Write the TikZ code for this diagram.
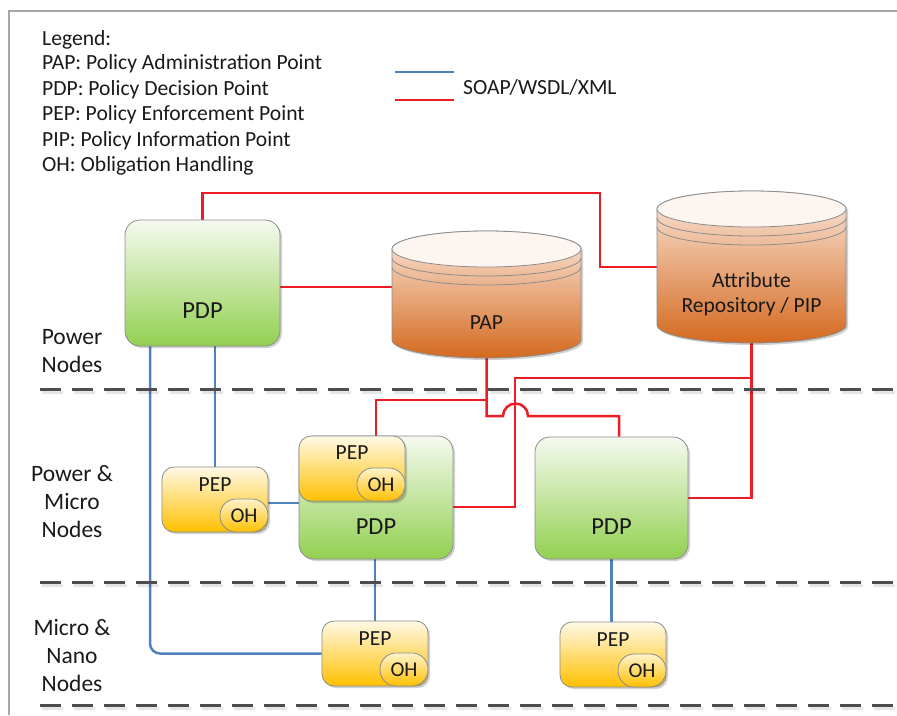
\documentclass[tikz,border=0pt]{standalone}
\usepackage{fontspec}
\setmainfont{Carlito}
\usetikzlibrary{shadows,backgrounds,calc}

\definecolor{linkred}{HTML}{EE1C25}
\definecolor{linkblue}{HTML}{4F81BD}
\definecolor{edgegray}{HTML}{8C8C8C}
\definecolor{framegray}{HTML}{A6A6A6}
\definecolor{greenTop}{HTML}{F5FAF0}
\definecolor{greenBot}{HTML}{92D050}
\definecolor{pepTop}{HTML}{FFF9E6}
\definecolor{pepBot}{HTML}{FFC000}
\definecolor{ohTop}{HTML}{FFF3CC}
\definecolor{cylTop}{HTML}{FBE8DC}
\definecolor{cylBot}{HTML}{D4691F}
\definecolor{cylFace}{HTML}{FDF5EF}
\definecolor{tiergray}{HTML}{4D4D4D}
\definecolor{txt}{HTML}{1A1A1A}

\newcommand\diagfont{\fontsize{21.6}{25}\selectfont}
\newcommand\pepfont{\fontsize{21.5}{25}\selectfont}
\newcommand\ohfont{\fontsize{21}{25}\selectfont}
\newcommand\pdpfont{\fontsize{24.5}{28}\selectfont}
\newcommand\tierfont{\fontsize{23.5}{28}\selectfont}

% storage cylinder: #1 left x, #2 right x, #3 top-face centre y, #4 bottom-face centre y
\newcommand\drawstore[4]{%
  \pgfmathsetmacro\cylrx{(#2-#1)/2}%
  \path[draw=edgegray, line width=0.8pt, top color=cylTop, bottom color=cylBot, softshadow]
    (#1,#3) -- (#1,#4) arc[start angle=180, end angle=360, x radius=\cylrx pt, y radius=18pt]
    -- (#2,#3) arc[start angle=0, end angle=180, x radius=\cylrx pt, y radius=18pt] -- cycle;
  \path[draw=edgegray, line width=0.8pt, fill=cylFace]
    ({(#1+#2)/2},#3) ellipse [x radius=\cylrx pt, y radius=18pt];
  \draw[edgegray, line width=0.8pt] (#1,#3+9) arc[start angle=180, end angle=360, x radius=\cylrx pt, y radius=18pt];
  \draw[edgegray, line width=0.8pt] (#1,#3+18) arc[start angle=180, end angle=360, x radius=\cylrx pt, y radius=18pt];
}

\begin{document}
\begin{tikzpicture}[x=1pt,y=-1pt,
  every node/.style={text=txt},
  softshadow/.style={drop shadow={shadow xshift=2pt,shadow yshift=-2pt,opacity=0.18,fill=black}},
  pdpbox/.style={draw=edgegray, line width=0.8pt, rounded corners=15pt,
    top color=greenTop, bottom color=greenBot, softshadow, inner sep=0pt},
  pepbox/.style={draw=edgegray, line width=0.8pt, rounded corners=12pt,
    top color=pepTop, bottom color=pepBot, minimum width=106pt, minimum height=65pt,
    inner sep=0pt, softshadow},
  ohbox/.style={draw=edgegray, line width=0.8pt, rounded corners=16pt,
    top color=ohTop, bottom color=pepBot, minimum width=48pt, minimum height=33pt,
    inner sep=0pt, font=\ohfont, anchor=south east},
  boxtext/.style={font=\diagfont, inner sep=0pt},
  pdptext/.style={font=\pdpfont, inner sep=0pt},
  peptext/.style={font=\pepfont, inner sep=0pt},
  redlink/.style={draw=linkred, line width=2.5pt},
  bluelink/.style={draw=linkblue, line width=2.5pt},
  tierline/.style={draw=tiergray, line width=3pt, dash pattern=on 21pt off 11pt},
  tiershade/.style={draw=black, opacity=0.1, line width=3pt, dash pattern=on 21pt off 11pt},
]
\useasboundingbox (0,0) rectangle (897,715);

% outer frame (top and left edges)
\draw[framegray, line width=1.5pt] (9,715) -- (9,11) -- (897,11);

% legend
\node[anchor=base west, font=\diagfont, inner sep=0pt] (leg0) at (42,45) {Legend:};
\node[anchor=base west, font=\diagfont, inner sep=0pt] (leg1) at (42,69.5) {PAP: Policy Administration Point};
\node[anchor=base west, font=\diagfont, inner sep=0pt] (leg2) at (42,95) {PDP: Policy Decision Point};
\node[anchor=base west, font=\diagfont, inner sep=0pt] (leg3) at (42,120.5) {PEP: Policy Enforcement Point};
\node[anchor=base west, font=\diagfont, inner sep=0pt] (leg4) at (42,146) {PIP: Policy Information Point};
\node[anchor=base west, font=\diagfont, inner sep=0pt] (leg5) at (42,171.5) {OH: Obligation Handling};

\coordinate (keyB1) at (395,72);
\coordinate (keyB2) at (454,72);
\coordinate (keyR1) at (395,100);
\coordinate (keyR2) at (454,100);
\draw[bluelink] (keyB1) -- (keyB2);
\draw[redlink] (keyR1) -- (keyR2);
\node[anchor=base west, font=\diagfont, inner sep=0pt] (keytxt) at (463,94) {SOAP/WSDL/XML};

% tier separators
\foreach \ty in {389,582,705}{
  \draw[tiershade] (42,\ty+3) -- (899,\ty+3);
  \draw[tierline] (40,\ty) -- (897,\ty);
}

% tier names
\node[align=center, font=\tierfont] (tier1) at (72,351) {Power\\Nodes};
\node[align=center, font=\tierfont] (tier2) at (72,502) {Power \&\\Micro\\Nodes};
\node[align=center, font=\tierfont] (tier3) at (72,655) {Micro \&\\Nano\\Nodes};

% repositories
\drawstore{392}{581}{249}{340}
\node[minimum width=189pt, minimum height=127pt, inner sep=0pt,
  label={[name=papT, boxtext, yshift=-28.5pt]center:PAP}] (pap) at (486.5,294.5) {};
\drawstore{657}{846}{209}{325}
\node[minimum width=189pt, minimum height=152pt, inner sep=0pt,
  label={[name=attrT, boxtext, align=center, yshift=-27.5pt]center:Attribute\\Repository / PIP}] (attr) at (751.5,267) {};

% decision points
\node[pdpbox, minimum width=155pt, minimum height=126pt,
  label={[name=pdpAT, pdptext, yshift=-28pt]center:PDP}] (pdpA) at (202.5,283) {};
\node[pdpbox, minimum width=154pt, minimum height=123pt,
  label={[name=pdpBT, pdptext, yshift=-29.5pt]center:PDP}] (pdpB) at (376,497.5) {};
\node[pdpbox, minimum width=153pt, minimum height=122pt,
  label={[name=pdpCT, pdptext, yshift=-29pt]center:PDP}] (pdpC) at (611.5,498) {};

% enforcement points with obligation handling
\node[pepbox, label={[name=pepMT, peptext, yshift=15.5pt]center:PEP}] (pepM) at (352,468.5) {};
\node[ohbox] (ohM) at (pepM.south east) {OH};
\node[pepbox, label={[name=pepLT, peptext, yshift=14.5pt]center:PEP}] (pepL) at (215,499.5) {};
\node[ohbox] (ohL) at (pepL.south east) {OH};
\node[pepbox, label={[name=pepB1T, peptext, yshift=14.5pt]center:PEP}] (pepB1) at (375,653.5) {};
\node[ohbox] (ohB1) at (pepB1.south east) {OH};
\node[pepbox, label={[name=pepB2T, peptext, yshift=14.5pt]center:PEP}] (pepB2) at (613,654.5) {};
\node[ohbox] (ohB2) at (pepB2.south east) {OH};

% connectors
\begin{pgfonlayer}{background}
  \draw[redlink] (pdpA.north) |- (600,193) |- (attr.west);
  \draw[redlink] (pdpA.east) ++(0,4) coordinate (papIn) -- (papIn -| pap.west);
  \draw[redlink] (pap.south) -- ++(0,58) -- (503,416)
    arc[start angle=180, end angle=0, radius=12.5pt] -- (619,416) -- (619,0 |- pdpC.north);
  \draw[redlink] (pap.south) ++(0,42) -| (pdpB.north);
  \draw[redlink] (attr.south) |- (pdpC.east);
  \draw[redlink] (attr.south) ++(0,35) -| (515,507) -- (pdpB.east |- 0,507);

  \draw[bluelink] (pdpA.south -| pepL.north) -- (pepL.north);
  \draw[bluelink, rounded corners=10pt] (pdpA.south -| 150,0) |- (pepB1.west);
  \draw[bluelink] (pepL.east) ++(0,3.5) coordinate (pepLout) -- (pepLout -| pdpB.west);
  \draw[bluelink] (pepB1.north |- pdpB.south) -- (pepB1.north);
  \draw[bluelink] (pdpC.south) -- (pdpC.south |- pepB2.north);
\end{pgfonlayer}
\end{tikzpicture}
\end{document}
